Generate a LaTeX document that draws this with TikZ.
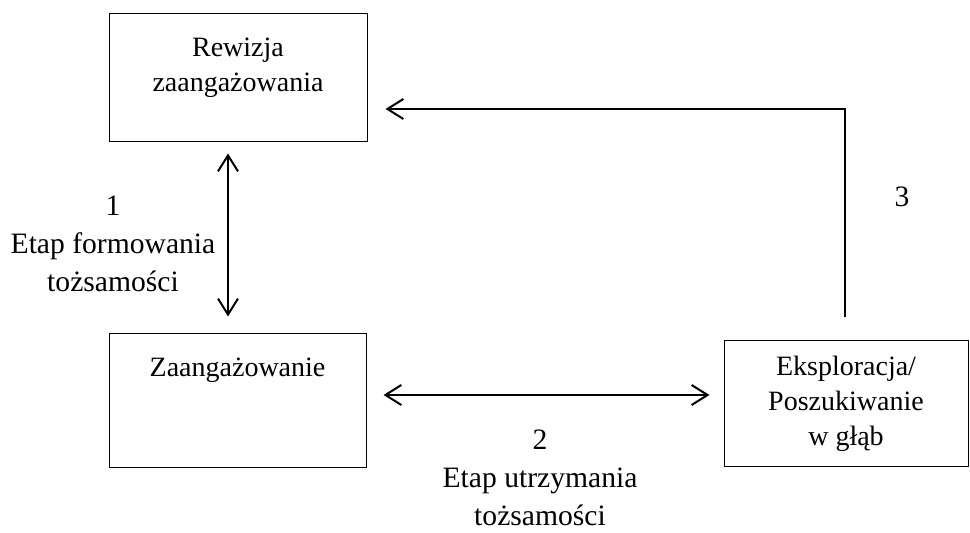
\documentclass[tikz,border=0pt]{standalone}
\usepackage{fontspec}
\setmainfont{Liberation Serif}
\usetikzlibrary{arrows.meta,calc}

\begin{document}
\begin{tikzpicture}[
  x=0.5pt,y=-0.5pt,
  font=\fontsize{14}{17.5}\selectfont,
  box/.style={draw,line width=0.5pt,inner sep=0pt,align=center},
  intxt/.style={label={[anchor=north,yshift=-8.5pt,align=center]north:#1}},
  lbl/.style={align=center,font=\fontsize{14.8}{19}\selectfont},
  arr/.style={-{Straight Barb[length=8pt,width=10pt]},line width=1pt},
  darr/.style={{Straight Barb[length=8pt,width=10pt]}-{Straight Barb[length=8pt,width=10pt]},line width=1pt}
]
\useasboundingbox (0,0) rectangle (970,533);
\node[box,minimum width=129pt,minimum height=64pt,intxt={Rewizja\\zaangażowania}] (rew) at (238,78) {};
\node[box,minimum width=128.5pt,minimum height=67pt,intxt={Zaangażowanie}] (zaang) at (237.5,401) {};
\node[box,minimum width=122pt,minimum height=63pt] (eksp) at (846,404) {Eksploracja/\\Poszukiwanie\\w głąb};
\draw[darr] ($(rew.south)+(-10,11)$) -- ($(zaang.north)+(-9.5,-17)$);
\draw[darr] ($(zaang.east)+(17,-6)$) -- ($(eksp.west)+(-14,-9)$);
\draw[arr] ($(eksp.north)+(-1,-23)$) |- ($(rew.east)+(18,31)$);
\node[lbl] (etap1) at (113,244) {1\\Etap formowania\\tożsamości};
\node[lbl] (etap2) at (540,478) {2\\Etap utrzymania\\tożsamości};
\node[lbl] (etap3) at (902,197) {3};
\end{tikzpicture}
\end{document}
